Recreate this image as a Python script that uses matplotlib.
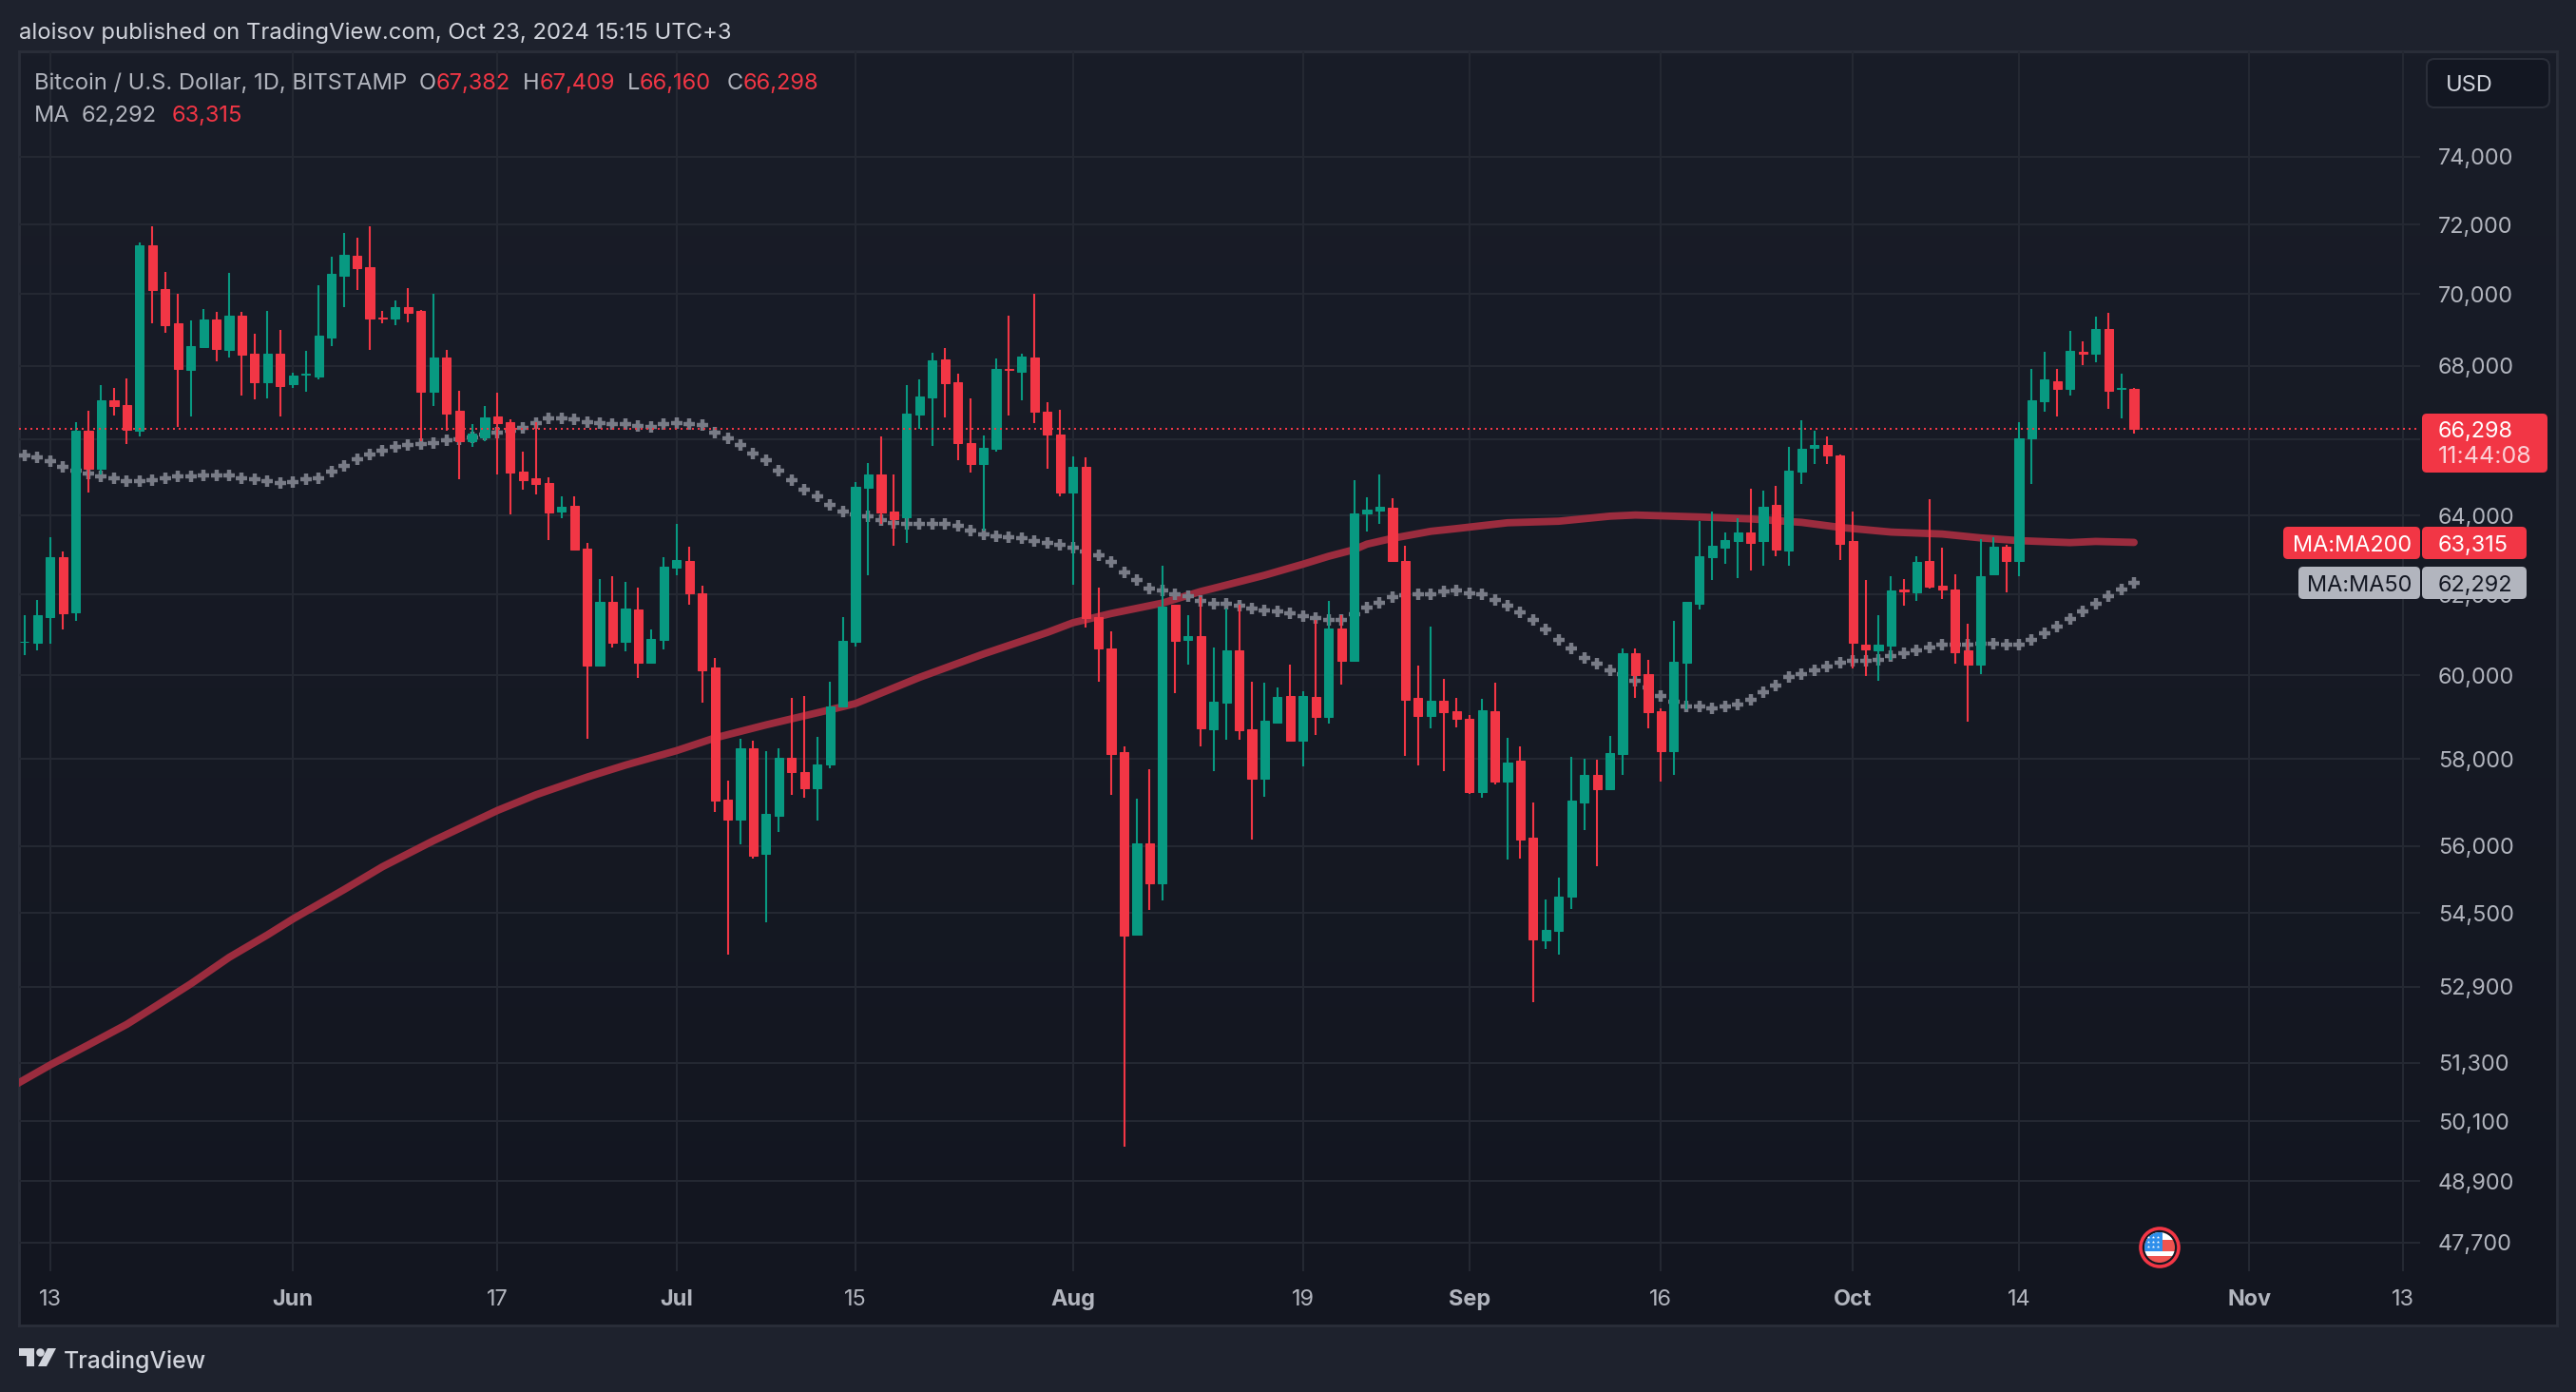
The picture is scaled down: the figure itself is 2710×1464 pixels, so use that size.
import numpy as np
import matplotlib
matplotlib.use("Agg")
import matplotlib.pyplot as plt
from matplotlib.patches import Circle, FancyBboxPatch, Polygon, Rectangle
from matplotlib.ticker import FixedLocator, FixedFormatter, NullLocator

plt.rcParams['font.family'] = ['Inter', 'DejaVu Sans']

# ---- data (daily candles, 11 May 2024 .. 23 Oct 2024) ----
opens = [60810,60790,61430,62945,61560,66230,65220,67060,66930,66240,71410,70150,69175,67900,68530,69300,68450,69390,68340,67550,
 68340,67490,67750,67710,68780,70540,71100,70780,69350,69310,69650,69520,67300,68230,66780,65970,66070,66620,66460,65150,
 64970,64860,64100,64260,63160,60240,61810,60820,61620,60315,60870,62680,62850,62035,60180,57050,56600,58250,55810,56680,
 58030,57700,57330,57870,59240,60820,64720,65070,64100,63960,66670,67150,68180,67550,65910,65360,65760,67930,67830,68230,
 66760,66140,64600,65290,61440,60660,58160,54020,56060,55150,61740,60860,60960,58700,59350,60600,58700,57550,58870,59490,
 58430,59470,58990,61150,60360,64070,64135,64220,62840,59450,59020,59380,59130,58960,57240,59130,57480,57960,56190,53910,
 54110,54860,57000,57640,57310,58120,60540,60020,59130,58180,60300,61760,62940,63170,63340,63580,63340,64290,63100,65150,
 65790,65870,65580,63340,60760,60610,60720,62110,62050,62830,62210,62110,60600,60250,62500,63200,62840,66030,67040,67590,
 67370,68400,68340,69020,67370,67382]
highs = [61470,61850,63440,63085,66470,66770,67480,67400,67660,71475,71940,70640,70020,69270,69590,69510,70600,69510,68880,69530,
 69000,67810,68420,70250,71070,71750,71630,71940,69530,69825,70180,69570,70020,68430,67310,66410,66900,67260,66550,65680,
 66470,65010,64500,64510,63310,62390,62460,62320,62160,61130,62935,63800,63210,62220,60430,57500,58470,58430,58180,58260,
 59460,59510,58520,59850,61420,64890,65380,66100,65090,67470,67640,68360,68500,67800,67110,66110,68200,69400,68330,70000,
 67000,66810,65560,65530,62160,61080,58290,57070,57760,62720,61740,61470,61920,60670,61640,61750,59840,59820,59710,60250,
 59610,61350,61840,61470,64940,64470,65070,64460,63240,60230,61190,59920,59450,59050,59430,59820,58500,58300,56990,54800,
 55290,58060,58020,57980,58540,60660,60660,60380,59210,61340,61800,63860,64100,63570,63950,64710,64660,64790,65820,66510,
 66250,66080,65600,64110,62360,61470,62460,62380,62950,64420,63170,62500,61260,63400,63460,63260,66470,67910,68380,67910,
 68980,68680,69360,69470,67790,67409]
lows = [60495,60610,60770,61130,61340,64610,65070,66660,65895,66090,69175,68920,66330,66630,68500,68130,68240,67200,67090,67110,
 66630,67410,67290,67620,68560,69640,70120,68450,69175,69140,69200,65970,66900,66230,64950,65820,65970,65090,64040,64670,
 64550,63380,63935,63140,58480,60240,60690,60585,59930,60315,60630,62480,61730,59350,56770,53600,56040,55710,54300,56310,
 57160,57100,56580,57790,59240,60710,62480,63780,63240,63310,66300,65830,66600,65450,65120,63620,65670,66650,67070,66450,
 65230,64510,62250,61170,59840,57160,49590,54000,54560,54770,59570,60270,58300,57720,58460,58460,56140,57130,58830,58430,
 57840,58560,58830,59780,60340,63600,63800,62840,58070,57850,58720,57730,58760,57190,57100,57400,55700,55720,52570,53710,
 53600,54580,56370,55550,57310,57640,59450,58720,57480,57640,59180,61610,62370,62760,62410,62600,62720,62970,62710,64840,
 65360,65360,62860,60170,59980,59860,60370,61720,61840,62150,61870,60280,58880,60030,62480,62060,62460,64820,66750,66630,
 67190,68020,68100,66830,66580,66160]
closes = [60830,61470,62945,61520,66230,65220,67060,66900,66260,71410,70110,69120,67920,68560,69280,68480,69400,68310,67550,68340,
 67460,67740,67780,68830,70570,71130,70750,69310,69310,69650,69480,67300,68230,66700,65970,66170,66610,66450,65125,64920,
 64840,64090,64230,63140,60240,61810,60800,61650,60315,60890,62695,62860,62025,60130,57025,56600,58250,55770,56720,58030,
 57700,57330,57880,59240,60840,64760,65070,64090,63910,66690,67160,68150,67530,65920,65350,65780,67920,67890,68270,66750,
 66130,64600,65290,61400,60650,58130,54000,56060,55150,61700,60850,60950,58730,59370,60620,58680,57550,58910,59480,58430,
 59500,58990,61150,60360,64060,64160,64225,62840,59405,59020,59380,59110,58950,57240,59150,57480,57930,56140,53930,54130,
 54860,57030,57640,57310,58140,60540,60000,59110,58180,60330,61800,62970,63220,63370,63560,63290,64240,63130,65170,65770,
 65870,65570,63280,60800,60630,60740,62100,62080,62810,62190,62120,60570,60250,62450,63200,62840,66040,67060,67620,67370,
 68410,68350,69030,67320,67410,66298]
ma50 = [65570,65520,65430,65290,65190,65100,65020,64970,64900,64900,64940,64990,65040,65030,65060,65050,65050,64970,64950,64910,
 64850,64880,64950,64990,65160,65300,65470,65600,65710,65800,65870,65890,65920,65980,66020,66070,66140,66200,66250,66320,
 66440,66560,66580,66550,66470,66450,66420,66410,66360,66350,66420,66450,66430,66400,66200,66030,65860,65620,65450,65170,
 64920,64690,64500,64280,64110,64030,63980,63880,63820,63780,63790,63790,63790,63730,63630,63510,63470,63460,63420,63360,
 63300,63250,63180,63080,62980,62820,62550,62360,62150,62100,62000,61960,61830,61760,61770,61720,61650,61590,61580,61520,
 61460,61410,61360,61360,61490,61660,61790,61930,61980,61990,62010,62070,62090,62030,62000,61860,61720,61560,61360,61120,
 60860,60660,60430,60280,60130,60020,59870,59700,59500,59360,59260,59240,59200,59240,59290,59400,59600,59750,59970,60020,
 60130,60220,60310,60360,60360,60380,60470,60530,60600,60680,60740,60750,60760,60780,60780,60740,60760,60860,61040,61190,
 61380,61570,61760,61950,62120,62292]
ma200_day = [-1,2,5,8,10,13,16,19,21,25,28,32,37,40,44,47,51,54,58,63,65,70,75,80,82,85,89,92,93,97,100,102,104,105,107,110,112,116,120,124,126,131,135,139,142,146,150,153,156,160,162,165]
ma200_val = [50800,51250,51670,52100,52440,52960,53530,54020,54370,55020,55530,56120,56810,57170,57580,57860,58200,58500,58810,59170,59320,59950,60520,61050,61290,61520,61780,62070,62150,62480,62760,62960,63130,63270,63420,63600,63670,63820,63860,63990,64020,63970,63920,63830,63700,63580,63530,63430,63360,63310,63340,63315]
price_ticks = [74000,72000,70000,68000,66000,64000,62000,60000,58000,56000,54500,52900,51300,50100,48900,47700]
hidden_price_labels = [66000]
time_days = [2,21,37,51,65,82,100,113,128,143,156,174,186]
time_labels = ['13','Jun','17','Jul','15','Aug','19','Sep','16','Oct','14','Nov','13']
month_labels = ['Jun','Jul','Aug','Sep','Oct','Nov']
last_close = 66298
ma50_last = 62292
ma200_last = 63315

# ---- styles ----
W, H = 2710, 1464
GREEN, RED = '#089981', '#F23645'
OUTER, BORDER, GRID = '#1E222D', '#2A2E39', '#242832'
TXT, AXTXT = '#D1D4DC', '#B2B5BE'

fig = plt.figure(figsize=(W/100, H/100), dpi=100, facecolor=OUTER)

def px_axes(l, t, r, b, **kw):
    return fig.add_axes([l/W, 1-b/H, (r-l)/W, (b-t)/H], **kw)

# panel with a soft vertical gradient
bg = px_axes(20, 54, 2690, 1394, zorder=0)
bg.imshow(np.linspace(0, 1, 256).reshape(-1, 1),
          cmap=matplotlib.colors.LinearSegmentedColormap.from_list('p', ['#191D28', '#131620']),
          aspect='auto')
bg.set_xticks([]); bg.set_yticks([])
for s in bg.spines.values():
    s.set_color(BORDER); s.set_linewidth(2.0)

# price panel: x in days since 11 May, log y
ax = px_axes(20, 54, 2546, 1337, zorder=1)
ax.patch.set_alpha(0)
x0, dx = 25.8, 13.45
pscale = 2600.0
price_at = lambda y: 74000*np.exp(-(y-165)/pscale)
ax.set_xlim((20-x0)/dx, (2546-x0)/dx)
ax.set_yscale('log')
ax.set_ylim(price_at(1337), price_at(54))
ax.yaxis.set_major_locator(FixedLocator(price_ticks))
ax.yaxis.set_major_formatter(FixedFormatter(['' if p in hidden_price_labels else f'{p:,}' for p in price_ticks]))
ax.yaxis.set_minor_locator(NullLocator())
ax.yaxis.tick_right()
ax.set_xticks(time_days, time_labels)
ax.tick_params(axis='y', length=0, pad=13.5, labelsize=16.9, labelcolor=AXTXT)
ax.tick_params(axis='x', length=0, pad=14, labelsize=16.9, labelcolor=AXTXT)
for lab in ax.get_xticklabels():
    if lab.get_text() in month_labels:
        lab.set_fontweight('bold')
ax.grid(True, color=GRID, lw=1.5, zorder=0)
ax.set_axisbelow(True)
for s in ax.spines.values():
    s.set_visible(False)

days = np.arange(len(opens))
o, h, l, c = map(np.array, (opens, highs, lows, closes))
up = c >= o
cols = np.where(up, GREEN, RED)

ax.plot(ma200_day, ma200_val, color='#9B2C3E', lw=5.6, solid_capstyle='round', zorder=2)
ax.plot(days, ma50, ls='none', marker='+', ms=9.2, mew=3.2, color='#787B86', zorder=2.2)
ax.vlines(days, l, h, colors=cols, lw=1.5, zorder=3)
ax.bar(days, np.maximum(o, c)-np.minimum(o, c), bottom=np.minimum(o, c), width=0.68,
       color=cols, edgecolor=cols, linewidth=0.75, zorder=3.2)
ax.axhline(last_close, color=RED, lw=1.44, ls=(0, (1, 2)), xmax=(2542-20)/(2546-20), zorder=3.5)

# overlay in pixel coordinates for the header, legend and axis badges
ov = fig.add_axes([0, 0, 1, 1], zorder=5)
ov.set_xlim(0, W); ov.set_ylim(H, 0); ov.axis('off'); ov.patch.set_alpha(0)

def T(x, y, s, color=TXT, size=17.0, ha='left', **kw):
    ov.text(x, y, s, color=color, fontsize=size, ha=ha, va='center_baseline', **kw)

T(20, 32, 'aloisov published on TradingView.com, Oct 23, 2024 15:15 UTC+3', color=TXT, size=17.2)
T(36, 85, 'Bitcoin / U.S. Dollar, 1D, BITSTAMP', color=AXTXT, size=17.1)
for xl, lab, xv, val in [(441, 'O', 459, opens[-1]), (550, 'H', 568, highs[-1]),
                         (660, 'L', 673, lows[-1]), (765, 'C', 782, closes[-1])]:
    T(xl, 85, lab, color=AXTXT)
    T(xv, 85, f'{val:,}', color=RED)
T(36, 120, 'MA', color=AXTXT)
T(86, 120, f'{ma50_last:,}', color=AXTXT)
T(181, 120, f'{ma200_last:,}', color=RED)

# USD button
ov.add_patch(FancyBboxPatch((2556, 65), 123, 45, boxstyle='round,pad=3,rounding_size=8',
                            fc='#131722', ec=BORDER, lw=1.5))
T(2573, 87, 'USD', color=TXT)

def badge(x1, x2, y1, y2, color):
    ov.add_patch(FancyBboxPatch((x1+3, y1+3), x2-x1-6, y2-y1-6, boxstyle='round,pad=3,rounding_size=5',
                                fc=color, ec='none'))

badge(2548, 2680, 435, 497, RED)
T(2565, 451, f'{last_close:,}', color='white', size=16.9)
T(2565, 478, '11:44:08', color='#FBD0D5', size=18.0)
badge(2402, 2546, 554, 588, RED)
badge(2548, 2658, 554, 588, RED)
T(2412, 571, 'MA:MA200', color='white', size=16.9)
T(2565, 571, f'{ma200_last:,}', color='white', size=16.9)
badge(2418, 2546, 596, 630, AXTXT)
badge(2548, 2658, 596, 630, AXTXT)
T(2427, 613, 'MA:MA50', color='#131722', size=16.9)
T(2565, 613, f'{ma50_last:,}', color='#131722', size=16.9)

# economic-event flag
fx, fy = 2272, 1312
ov.add_patch(Circle((fx, fy), 20, fc='#131722', ec=RED, lw=2.6))
clip = Circle((fx, fy), 16, transform=ov.transData)
rows = [(-16, -8, 'white'), (-8, -2, '#EF5350'), (-2, 4, '#EF5350'), (4, 9, 'white'), (9, 16, '#EF5350')]
for y1, y2, colr in rows:
    rr = Rectangle((fx-16, fy+y1), 32, y2-y1, fc=colr, ec='none')
    ov.add_patch(rr); rr.set_clip_path(clip)
ca = Rectangle((fx-16, fy-16), 19, 20, fc='#2F8FEB', ec='none')
ov.add_patch(ca); ca.set_clip_path(clip)
sx, sy = np.meshgrid(np.array([-12, -7, -2]) + fx, np.array([-11, -6, -1]) + fy)
ov.scatter(sx.ravel(), sy.ravel(), s=6, c='white', marker='*', linewidths=0)

# footer logo and wordmark
ov.add_patch(Polygon([(20, 1418), (36, 1418), (36, 1437), (28, 1437), (28, 1426), (20, 1426)], fc=TXT, ec='none'))
ov.add_patch(Circle((42.5, 1422.5), 4.3, fc=TXT, ec='none'))
ov.add_patch(Polygon([(50, 1418), (59, 1418), (49, 1437), (40, 1437)], fc=TXT, ec='none'))
T(67, 1430, 'TradingView', color=TXT, size=17.8, fontweight='medium')

fig.savefig('out.png', dpi=100, facecolor=OUTER)
